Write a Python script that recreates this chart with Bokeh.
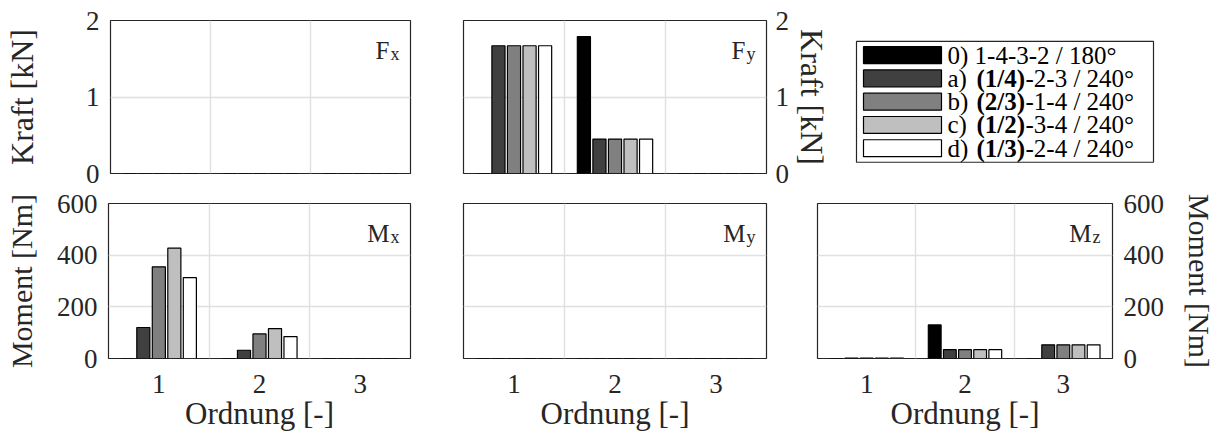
from bokeh.plotting import figure
from bokeh.layouts import column, row
from bokeh.models import Range1d, FixedTicker, Label, ColumnDataSource
from bokeh.embed import file_html
from bokeh.resources import INLINE
from bokeh.core.properties import value

# ---------------------------------------------------------------- data
orders = [1, 2, 3]

variant_prefix = ["0) 1-4-3-2 / 180°", "a)", "b)", "c)", "d)"]
variant_bold = ["", "(1/4)", "(2/3)", "(1/2)", "(1/3)"]
variant_rest = ["", "-2-3 / 240°", "-1-4 / 240°", "-3-4 / 240°", "-2-4 / 240°"]
variant_colors = ["#000000", "#404040", "#808080", "#bfbfbf", "#ffffff"]

# amplitude per order (1, 2, 3), one list per variant 0, a, b, c, d
fx_kN = [[0, 0, 0], [0, 0, 0], [0, 0, 0], [0, 0, 0], [0, 0, 0]]
fy_kN = [[0, 1.79, 0], [1.67, 0.45, 0], [1.67, 0.45, 0], [1.67, 0.45, 0], [1.67, 0.45, 0]]
mx_Nm = [[0, 0, 0], [120, 32, 0], [355, 95, 0], [427, 116, 0], [313, 85, 0]]
my_Nm = [[0, 0, 0], [0, 0, 0], [0, 0, 0], [0, 0, 0], [0, 0, 0]]
mz_Nm = [[0, 130, 0], [1.5, 34, 53], [1.5, 34, 53], [1.5, 34, 53], [1.5, 34, 53]]

force_ticks = [0, 1, 2]
moment_ticks = [0, 200, 400, 600]

# ---------------------------------------------------------------- style
FONT_NAME = "'Liberation Serif', serif"
FONT = value(FONT_NAME)
INK = "#262626"
GRID = "#e0e0e0"
BAR_STEP = 0.154
BAR_W = 0.13


def panel(vals, ticks, y_side, y_label, name, sub, width, height,
          borders, show_x, label_standoff, tick_standoff, label_size):
    p = figure(width=width, height=height, output_backend="svg",
               toolbar_location=None, tools="",
               x_range=Range1d(0.5, 3.5), y_range=Range1d(ticks[0], ticks[-1]),
               x_axis_location="below" if show_x else None,
               y_axis_location=y_side)
    p.min_border_left, p.min_border_right, p.min_border_top, p.min_border_bottom = borders
    p.background_fill_color = "white"
    p.border_fill_color = "white"
    p.outline_line_color = INK
    p.outline_line_width = 1.2

    p.xgrid.ticker = FixedTicker(ticks=[1.5, 2.5])
    p.ygrid.ticker = FixedTicker(ticks=ticks)
    p.grid.grid_line_color = GRID
    p.grid.grid_line_width = 1.4

    for i, v in enumerate(vals):
        src = ColumnDataSource(dict(x=[o + (i - 2) * BAR_STEP for o in orders], top=v))
        p.vbar(x="x", top="top", bottom=0, width=BAR_W, source=src,
               fill_color=variant_colors[i], line_color="black", line_width=1.2)

    for ax in p.axis:
        ax.axis_line_color = None
        ax.major_tick_line_color = None
        ax.minor_tick_line_color = None
        ax.major_tick_out = 0
        ax.major_tick_in = 0
        ax.minor_tick_out = 0
        ax.minor_tick_in = 0
        ax.major_label_text_font = FONT_NAME
        ax.major_label_text_font_size = "27px"
        ax.major_label_text_color = INK
        ax.axis_label_text_font = FONT_NAME
        ax.axis_label_text_font_size = label_size
        ax.axis_label_text_font_style = "normal"
        ax.axis_label_text_color = INK

    if show_x:
        p.xaxis.ticker = FixedTicker(ticks=orders)
        p.xaxis.axis_label = "Ordnung [-]"
        p.xaxis.axis_label_text_font_size = "31px"
        p.xaxis.major_label_standoff = 16
        p.xaxis.axis_label_standoff = 0
    if y_side is not None:
        p.yaxis.ticker = FixedTicker(ticks=ticks)
        p.yaxis.axis_label = y_label
        p.yaxis.major_label_standoff = tick_standoff
        p.yaxis.axis_label_standoff = label_standoff

    top = ticks[-1]
    p.add_layout(Label(x=3.5, y=top, x_offset=-21, y_offset=-30, text=name,
                       text_align="right", text_baseline="alphabetic",
                       text_font=FONT_NAME, text_font_size="25px", text_color=INK))
    p.add_layout(Label(x=3.5, y=top, x_offset=-20, y_offset=-33, text=sub,
                       text_align="left", text_baseline="alphabetic",
                       text_font=FONT_NAME, text_font_size="18px", text_color=INK))
    return p


# top row: forces
p_fx = panel(fx_kN, force_ticks, "left", "Kraft [kN]", "F", "x",
             436, 190, (108, 26, 20, 17), False, 43, 11, "32px")
p_fy = panel(fy_kN, force_ticks, "right", "Kraft [kN]", "F", "y",
             414, 190, (27, 84, 20, 17), False, 2, 9, "32px")

# legend panel
p_leg = figure(width=369, height=190, output_backend="svg", toolbar_location=None,
               tools="", x_range=Range1d(0, 369), y_range=Range1d(190, 0),
               x_axis_location=None, y_axis_location=None, min_border=0)
p_leg.outline_line_color = None
p_leg.grid.visible = False
p_leg.background_fill_color = "white"
p_leg.border_fill_color = "white"

LEG_LEFT, LEG_RIGHT, LEG_TOP, LEG_BOTTOM = 6, 303, 26, 176
ROW0, ROW_STEP = 43, 28.9
SW_LEFT, SW_RIGHT, SW_H = 13, 91, 21
TX0, BOLD_DX, REST_DX = 97, 29, 49
LEG_FONT = "25px"

p_leg.quad(left=[LEG_LEFT], right=[LEG_RIGHT], top=[LEG_TOP], bottom=[LEG_BOTTOM],
           fill_color="white", line_color=INK, line_width=1.2)
rows_y = [ROW0 + i * ROW_STEP for i in range(len(variant_prefix))]
p_leg.quad(left=[SW_LEFT] * 5, right=[SW_RIGHT] * 5,
           top=[y - SW_H / 2 for y in rows_y], bottom=[y + SW_H / 2 for y in rows_y],
           fill_color=variant_colors, line_color="black", line_width=1.2)
p_leg.text(x=[TX0] * 5, y=rows_y, text=variant_prefix, text_font=FONT,
           text_font_size=LEG_FONT, text_color="black", text_baseline="middle",
           text_align="left")
p_leg.text(x=[TX0 + BOLD_DX] * 4, y=rows_y[1:], text=variant_bold[1:], text_font=FONT,
           text_font_size=LEG_FONT, text_font_style="bold", text_color="black",
           text_baseline="middle", text_align="left")
p_leg.text(x=[TX0 + BOLD_DX + REST_DX] * 4, y=rows_y[1:], text=variant_rest[1:],
           text_font=FONT, text_font_size=LEG_FONT, text_color="black",
           text_baseline="middle", text_align="left")

# bottom row: moments
p_mx = panel(mx_Nm, moment_ticks, "left", "Moment [Nm]", "M", "x",
             436, 249, (108, 26, 13, 81), True, 16, 11, "30px")
p_my = panel(my_Nm, moment_ticks, None, "", "M", "y",
             356, 249, (27, 26, 13, 81), True, 0, 0, "30px")
p_mz = panel(mz_Nm, moment_ticks, "right", "Moment [Nm]", "M", "z",
             427, 249, (25, 98, 13, 81), True, 16, 11, "30px")

layout = column(row(p_fx, p_fy, p_leg), row(p_mx, p_my, p_mz))

with open("out.html", "w") as f:
    f.write(file_html(layout, INLINE))
